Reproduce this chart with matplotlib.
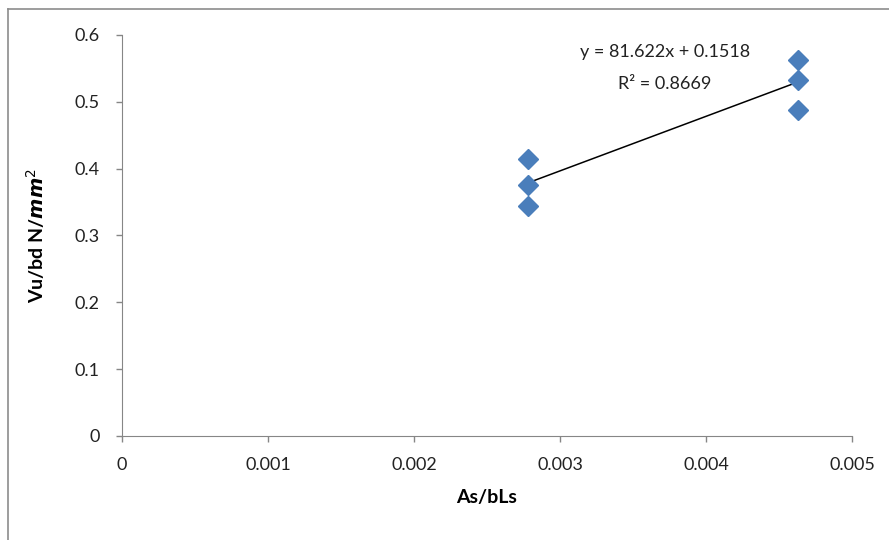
import numpy as np
import matplotlib.pyplot as plt
from matplotlib.lines import Line2D

# data
x_vals = [0.00278, 0.00278, 0.00278, 0.00463, 0.00463, 0.00463]
y_vals = [0.415, 0.376, 0.344, 0.562, 0.532, 0.488]
slope = 81.622
intercept = 0.1518
r_squared = 0.8669
x_ticks = [0, 0.001, 0.002, 0.003, 0.004, 0.005]
x_ticklabels = ['0', '0.001', '0.002', '0.003', '0.004', '0.005']
y_ticks = [0, 0.1, 0.2, 0.3, 0.4, 0.5, 0.6]
y_ticklabels = ['0', '0.1', '0.2', '0.3', '0.4', '0.5', '0.6']

plt.rcParams['font.family'] = ['Lato', 'DejaVu Sans']

fig = plt.figure(figsize=(8.89, 5.4), dpi=100)
ax = fig.add_axes([0.1372, 0.1926, 0.8212, 0.7426])

# trendline over the data range
x_line = np.array([min(x_vals), max(x_vals)])
ax.plot(x_line, slope * x_line + intercept, color='black', lw=1.1, zorder=2)

ax.plot(x_vals, y_vals, linestyle='none', marker='D', markersize=10.5,
        color='#4A7EBB', zorder=3)

ax.text(0.00372, 0.575, f'y = {slope}x + {intercept}', fontsize=13,
        ha='center', va='center', color='#222222')
ax.text(0.00372, 0.527, f'R² = {r_squared}', fontsize=13,
        ha='center', va='center', color='#222222')

ax.set_xlim(0, 0.005)
ax.set_ylim(0, 0.6)
ax.set_xticks(x_ticks)
ax.set_xticklabels(x_ticklabels)
ax.set_yticks(y_ticks)
ax.set_yticklabels(y_ticklabels)
ax.tick_params(labelsize=13, color='#868686', length=4, width=1,
               labelcolor='#222222')
ax.tick_params(axis='x', pad=11)
ax.tick_params(axis='y', pad=12)

for side in ['top', 'right']:
    ax.spines[side].set_visible(False)
for side in ['left', 'bottom']:
    ax.spines[side].set_color('#868686')

ax.set_xlabel('As/bLs', fontsize=14, fontweight='bold', labelpad=12)
ax.set_ylabel('Vu/bd N/$\\mathbfit{mm}^2$', fontsize=14, fontweight='bold',
              labelpad=20)

# chart area border (only top and left edges are visible in the crop)
fig.add_artist(Line2D([8 / 889, 8 / 889], [0, 1 - 9 / 540], color='#8c8c8c', lw=1.2))
fig.add_artist(Line2D([8 / 889, 1], [1 - 9 / 540, 1 - 9 / 540], color='#8c8c8c', lw=1.2))

fig.savefig('out.png', dpi=100)
